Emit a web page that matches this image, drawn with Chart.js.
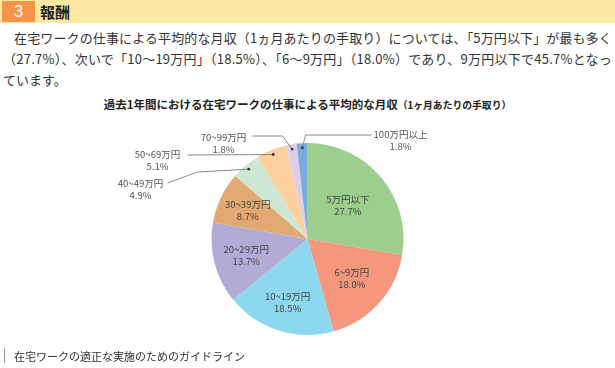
<!DOCTYPE html>
<html lang="ja">
<head>
<meta charset="utf-8">
<script src="https://cdn.jsdelivr.net/npm/chart.js@4.4.1/dist/chart.umd.min.js"></script>
<style>
  html, body { margin: 0; padding: 0; background: #fff; }
  body { width: 615px; height: 368px; position: relative; overflow: hidden; font-family: "Noto Sans CJK JP", sans-serif; color: #333; }
  .band { position: absolute; left: 0; top: 0; width: 615px; height: 23px; background: #fde9a6; }
  .num { position: absolute; left: 2px; top: 1px; width: 33px; height: 21px; background: #f7944a; color: #fff; font: 17px "Liberation Sans", sans-serif; text-align: center; line-height: 21px; }
  .head { position: absolute; left: 40px; top: 0; line-height: 23px; font-size: 15px; font-weight: bold; color: #222; }
  .line { position: absolute; white-space: nowrap; font-size: 13px; line-height: 20px; display: inline-block; }
  .title { position: absolute; left: 0; top: 95px; width: 615px; text-align: center; font-weight: bold; font-size: 11.5px; color: #222; line-height: 18px; }
  .title span { font-size: 9.8px; }
  .foot-bar { position: absolute; left: 4px; top: 348px; width: 1px; height: 15px; background: #999; }
  .foot { position: absolute; left: 14px; top: 347px; font-size: 11px; line-height: 18px; color: #333; }
  #pie { position: absolute; left: 0; top: 115px; }
</style>
</head>
<body>
<div class="band"></div>
<div class="num">3</div>
<div class="head">報酬</div>
<div class="line fit" data-w="598" style="left:14px; top:28px;">在宅ワークの仕事による平均的な月収（1ヵ月あたりの手取り）については、「5万円以下」が最も多く</div>
<div class="line fit" data-w="609" style="left:3px; top:49px;">（27.7%）、次いで「10～19万円」（18.5%）、「6～9万円」（18.0%）であり、9万円以下で45.7%となっ</div>
<div class="line" style="left:3px; top:70px;">ています。</div>
<div class="title">過去1年間における在宅ワークの仕事による平均的な月収<span>（1ヶ月あたりの手取り）</span></div>
<canvas id="pie" width="615" height="248"></canvas>
<div class="foot-bar"></div>
<div class="foot">在宅ワークの適正な実施のためのガイドライン</div>

<script>
const categories = ['5万円以下', '6~9万円', '10~19万円', '20~29万円', '30~39万円', '40~49万円', '50~69万円', '70~99万円', '100万円以上']
const shares = [27.7, 18.0, 18.5, 13.7, 8.7, 4.9, 5.1, 1.8, 1.8]

const sliceColors = ['#9bcf8b', '#f4977c', '#8dd8ef', '#b2abd6', '#e2aa72', '#cde7d5', '#fdd09e', '#ddcde6', '#7baadd']

// inside labels: fraction of radius; outside labels: leader line points relative to pie centre
const labelLayout = [
  { r: 0.55 },
  { r: 0.62 },
  { r: 0.69 },
  { r: 0.66 },
  { r: 0.69 },
  { pts: [[-110, -67], [-140, -56]], text: [-167, -56] },
  { pts: [[-120, -84]], text: [-150, -85] },
  { pts: [[-25, -103], [-55, -103]], text: [-84, -102] },
  { pts: [[-2, -104], [64, -104]], text: [93, -105] }
]

// fit paragraph lines to the width they take in the reference
document.querySelectorAll('.fit').forEach(el => {
  const target = Number(el.dataset.w)
  const n = el.textContent.length
  const w = el.getBoundingClientRect().width
  el.style.letterSpacing = ((target - w) / n) + 'px'
})

const pieLabels = {
  id: 'pieLabels',
  afterDatasetsDraw(chart) {
    const ctx = chart.ctx
    const meta = chart.getDatasetMeta(0)
    ctx.save()
    ctx.textAlign = 'center'
    ctx.textBaseline = 'middle'
    meta.data.forEach((arc, i) => {
      const p = arc.getProps(['x', 'y', 'startAngle', 'endAngle', 'outerRadius'], true)
      const mid = (p.startAngle + p.endAngle) / 2
      const lay = labelLayout[i]
      const txt = [categories[i], shares[i].toFixed(1) + '%']
      if (lay.r) {
        const lx = p.x + Math.cos(mid) * p.outerRadius * lay.r
        const ly = p.y + Math.sin(mid) * p.outerRadius * lay.r
        ctx.fillStyle = '#444'
        ctx.font = '9.5px "Noto Sans CJK JP", sans-serif'
        ctx.fillText(txt[0], lx, ly - 6)
        ctx.fillText(txt[1], lx, ly + 6)
      } else {
        const dx = p.x + Math.cos(mid) * p.outerRadius * 0.95
        const dy = p.y + Math.sin(mid) * p.outerRadius * 0.95
        ctx.strokeStyle = '#8a8a8a'
        ctx.lineWidth = 1
        ctx.beginPath()
        ctx.moveTo(dx, dy)
        lay.pts.forEach(pt => ctx.lineTo(p.x + pt[0], p.y + pt[1]))
        ctx.stroke()
        ctx.fillStyle = '#333'
        ctx.beginPath()
        ctx.arc(dx, dy, 1.4, 0, Math.PI * 2)
        ctx.fill()
        ctx.fillStyle = '#555'
        ctx.font = '9.5px "Noto Sans CJK JP", sans-serif'
        ctx.fillText(txt[0], p.x + lay.text[0], p.y + lay.text[1])
        ctx.fillText(txt[1], p.x + lay.text[0], p.y + lay.text[1] + 12)
      }
    })
    ctx.restore()
  }
}

new Chart(document.getElementById('pie'), {
  type: 'pie',
  data: {
    labels: categories,
    datasets: [{
      data: shares,
      backgroundColor: sliceColors,
      borderWidth: 0
    }]
  },
  options: {
    responsive: false,
    animation: false,
    radius: 96,
    layout: { padding: 0 },
    plugins: {
      legend: { display: false },
      tooltip: { enabled: false },
      title: { display: false }
    }
  },
  plugins: [pieLabels]
})
</script>
</body>
</html>
